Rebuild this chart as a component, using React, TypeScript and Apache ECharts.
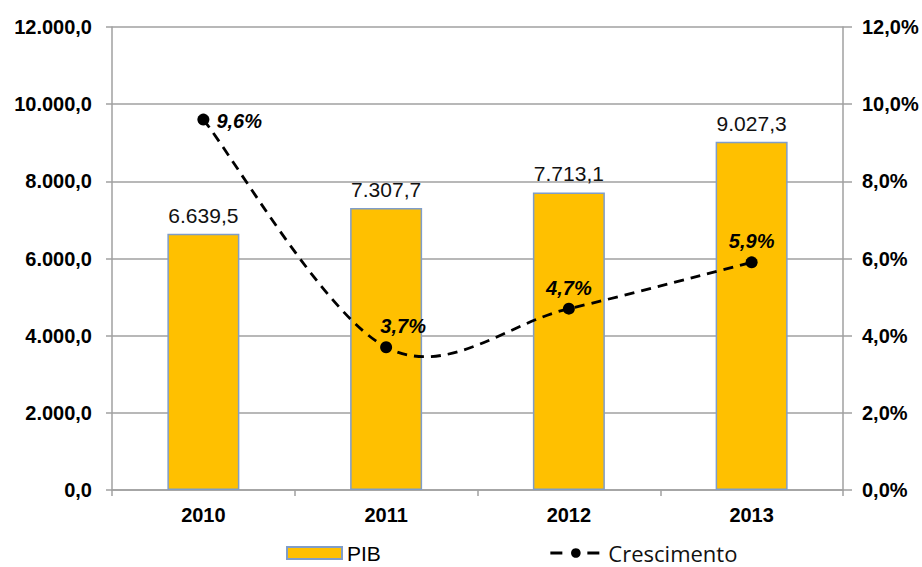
import React, { useEffect, useRef } from "react";
import * as echarts from "echarts";

const categories = ["2010", "2011", "2012", "2013"];
const pibValues = [6639.5, 7307.7, 7713.1, 9027.3];
const growthValues = [9.6, 3.7, 4.7, 5.9];

const fmtPt = (v: number, d: number) => {
  const s = v.toFixed(d);
  const [i, f] = s.split(".");
  const ii = i.replace(/\B(?=(\d{3})+(?!\d))/g, ".");
  return f !== undefined ? ii + "," + f : ii;
};

export default function App() {
  const ref = useRef<HTMLDivElement>(null);
  useEffect(() => {
    if (!ref.current) return;
    const chart = echarts.init(ref.current, null, { renderer: "svg" });
    const growthLabelCfg = [
      { position: "right", offset: [2, 1] },
      { position: "top", offset: [17, 0] },
      { position: "top", offset: [0, 0] },
      { position: "top", offset: [0, 0] },
    ];
    const axisFont = {
      fontFamily: "Liberation Sans",
      fontWeight: "bold",
      fontSize: 20,
      color: "#000",
    };
    chart.setOption({
      animation: false,
      backgroundColor: "#ffffff",
      grid: { left: 112, right: 79, top: 27, bottom: 77 },
      legend: {
        top: 542,
        left: 286,
        padding: 0,
        itemWidth: 55,
        itemHeight: 12,
        itemGap: 166,
        textStyle: { fontFamily: "Liberation Sans", fontSize: 21, color: "#000" },
        data: [
          { name: "PIB", icon: "rect" },
          {
            name: "Crescimento",
            textStyle: { fontFamily: "Open Sans", fontSize: 22, color: "#111" },
            lineStyle: { opacity: 1, color: "#000", width: 3, type: [12, 25], dashOffset: -2 },
          },
        ],
      },
      xAxis: {
        type: "category",
        data: categories,
        axisLine: { lineStyle: { color: "#A0A0A0", width: 1.5 } },
        axisTick: { show: true, length: 6, lineStyle: { color: "#A0A0A0", width: 1.5 } },
        axisLabel: { ...axisFont, margin: 15 },
      },
      yAxis: [
        {
          type: "value",
          min: 0,
          max: 12000,
          interval: 2000,
          axisLine: { show: true, lineStyle: { color: "#A0A0A0", width: 1.5 } },
          axisTick: { show: true, length: 6, lineStyle: { color: "#A0A0A0", width: 1.5 } },
          splitLine: { lineStyle: { color: "#A0A0A0", width: 1.5 } },
          axisLabel: { ...axisFont, margin: 20, formatter: (v: number) => fmtPt(v, 1) },
        },
        {
          type: "value",
          min: 0,
          max: 12,
          interval: 2,
          position: "right",
          axisLine: { show: true, lineStyle: { color: "#A0A0A0", width: 1.5 } },
          axisTick: { show: true, length: 9, lineStyle: { color: "#A0A0A0", width: 1.5 } },
          splitLine: { show: false },
          axisLabel: { ...axisFont, margin: 19, formatter: (v: number) => fmtPt(v, 1) + "%" },
        },
      ],
      series: [
        {
          name: "PIB",
          type: "bar",
          yAxisIndex: 0,
          barWidth: 72,
          data: pibValues,
          itemStyle: { color: "#FFC000", borderColor: "#7F9DC9", borderWidth: 1.5 },
          label: {
            show: true,
            position: "top",
            distance: 8,
            fontFamily: "Liberation Sans",
            fontSize: 21,
            color: "#111",
            formatter: (p: any) => fmtPt(p.value, 1),
          },
        },
        {
          name: "CrescimentoCurve",
          type: "custom",
          yAxisIndex: 1,
          data: growthValues.map((v, i) => [i, v]),
          z: 3,
          silent: true,
          renderItem: (params: any, api: any) => {
            if (params.dataIndex !== 0) return null;
            const pts = growthValues.map((v, i) => api.coord([i, v]));
            const n = pts.length;
            const t = 1 / 6;
            let d = `M${pts[0][0]},${pts[0][1]}`;
            for (let i = 0; i < n - 1; i++) {
              const p0 = pts[Math.max(i - 1, 0)];
              const p1 = pts[i];
              const p2 = pts[i + 1];
              const p3 = pts[Math.min(i + 2, n - 1)];
              const c1x = p1[0] + (p2[0] - p0[0]) * t;
              const c1y = p1[1] + (p2[1] - p0[1]) * t;
              const c2x = p2[0] - (p3[0] - p1[0]) * t;
              const c2y = p2[1] - (p3[1] - p1[1]) * t;
              d += ` C${c1x},${c1y} ${c2x},${c2y} ${p2[0]},${p2[1]}`;
            }
            return {
              type: "path",
              shape: { pathData: d },
              style: { fill: "none", stroke: "#000", lineWidth: 2.8, lineDash: [10, 7] },
            };
          },
        },
        {
          name: "Crescimento",
          type: "line",
          yAxisIndex: 1,
          symbol: "circle",
          symbolSize: 12,
          z: 4,
          itemStyle: { color: "#000" },
          lineStyle: { opacity: 0 },
          data: growthValues.map((v, i) => ({
            value: v,
            label: {
              show: true,
              position: growthLabelCfg[i].position,
              offset: growthLabelCfg[i].offset,
              distance: 5,
              fontFamily: "Liberation Sans",
              fontWeight: "bold",
              fontStyle: "italic",
              fontSize: 20,
              color: "#000",
              formatter: fmtPt(v, 1) + "%",
            },
          })),
        },
      ],
    });
    return () => chart.dispose();
  }, []);
  return (
    <div
      ref={ref}
      style={{ position: "fixed", left: 0, top: 0, width: 922, height: 567, background: "#fff" }}
    />
  );
}
